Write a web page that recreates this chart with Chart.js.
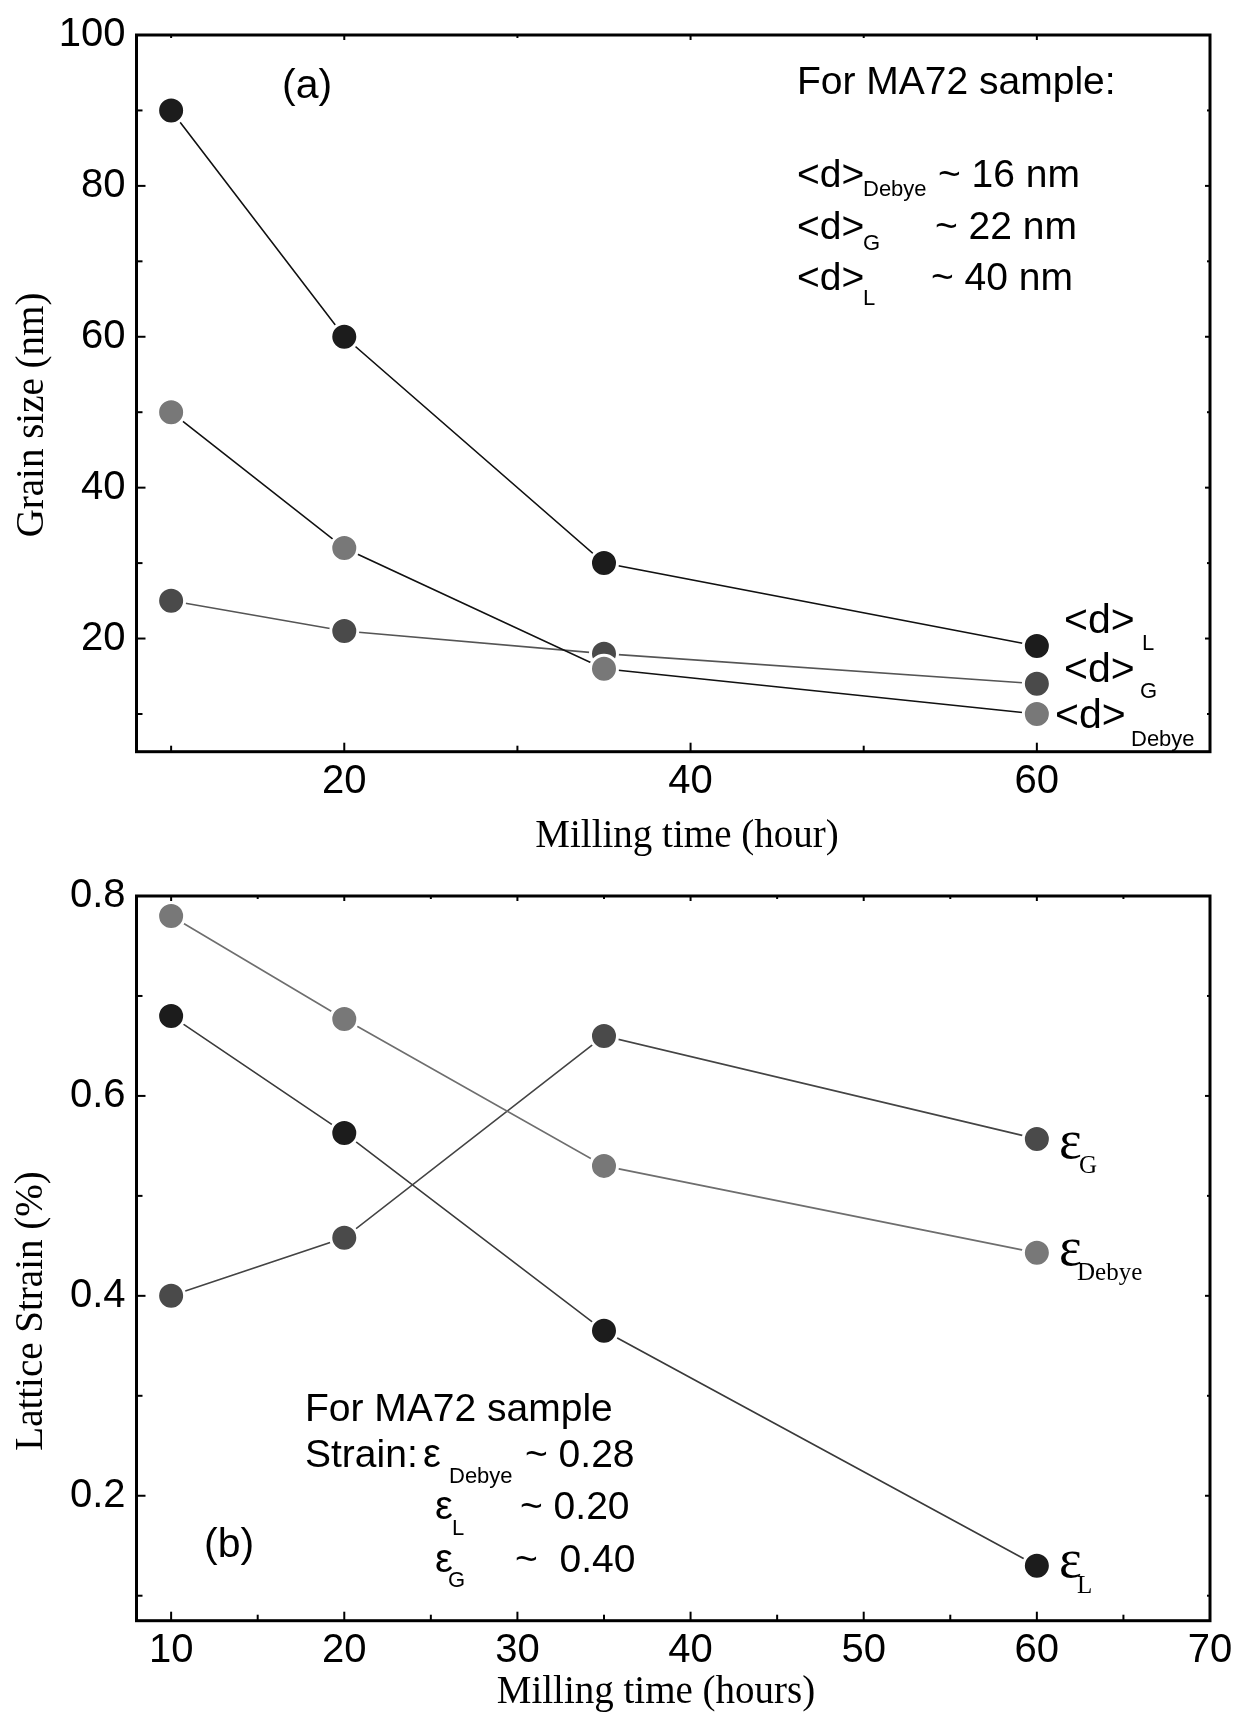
<!DOCTYPE html>
<html>
<head>
<meta charset="utf-8">
<script src="https://cdn.jsdelivr.net/npm/chart.js@4/dist/chart.umd.min.js"></script>
<style>
  html, body { margin: 0; padding: 0; background: #fff; }
  #wrap { position: relative; width: 1240px; height: 1712px; overflow: hidden; }
  .pane { position: absolute; left: 0; width: 1240px; }
</style>
</head>
<body>
<div id="wrap">
  <div class="pane" style="top:0;height:860px"><canvas id="chartA" width="1240" height="860"></canvas></div>
  <div class="pane" style="top:860px;height:852px"><canvas id="chartB" width="1240" height="852"></canvas></div>
</div>
<script>
// ---------- data ----------
const hours = [10, 20, 35, 60];
const grainL = [90, 60, 30, 19];
const grainG = [25, 21, 18, 14];
const grainDebye = [50, 32, 16, 10];
const strainL = [0.68, 0.563, 0.365, 0.13];
const strainG = [0.40, 0.458, 0.66, 0.557];
const strainDebye = [0.78, 0.677, 0.53, 0.443];

const xMajorA = [20, 40, 60];
const xMinorA = [10, 30, 50];
const yMajorA = [20, 40, 60, 80, 100];
const yMinorA = [10, 30, 50, 70, 90];
const xMajorB = [10, 20, 30, 40, 50, 60, 70];
const xMinorB = [15, 25, 35, 45, 55, 65];
const yMajorB = [0.2, 0.4, 0.6, 0.8];
const yMinorB = [0.1, 0.3, 0.5, 0.7];

// ---------- styling ----------
const SANS = '"Liberation Sans", Arial, Helvetica, sans-serif';
const SERIF = '"Liberation Serif", "Times New Roman", Times, serif';
const f = (size, fam) => size + 'px ' + fam;

const framePlugin = {
  id: 'frameTicks',
  afterDraw(chart, args, o) {
    const ctx = chart.ctx, a = chart.chartArea, xs = chart.scales.x, ys = chart.scales.y;
    ctx.save();
    ctx.strokeStyle = '#000';
    ctx.lineCap = 'butt';
    const seg = (x1, y1, x2, y2) => { ctx.beginPath(); ctx.moveTo(x1, y1); ctx.lineTo(x2, y2); ctx.stroke(); };
    ctx.lineWidth = 2;
    o.xMajor.forEach(v => { const p = xs.getPixelForValue(v); seg(p, a.bottom, p, a.bottom - 9); seg(p, a.top, p, a.top + 5); });
    o.xMinor.forEach(v => { const p = xs.getPixelForValue(v); seg(p, a.bottom, p, a.bottom - 6); seg(p, a.top, p, a.top + 3); });
    o.yMajor.forEach(v => { const p = ys.getPixelForValue(v); seg(a.left, p, a.left + 9, p); seg(a.right, p, a.right - 5, p); });
    o.yMinor.forEach(v => { const p = ys.getPixelForValue(v); seg(a.left, p, a.left + 6, p); seg(a.right, p, a.right - 3, p); });
    ctx.lineWidth = 3;
    ctx.strokeRect(a.left, a.top, a.right - a.left, a.bottom - a.top);
    ctx.fillStyle = '#000';
    ctx.textBaseline = 'alphabetic';
    o.texts.forEach(t => {
      ctx.save();
      ctx.font = t.font;
      ctx.textAlign = t.align || 'left';
      ctx.translate(t.x, t.y);
      if (t.rot) ctx.rotate(t.rot);
      ctx.fillText(t.t, 0, 0);
      ctx.restore();
    });
    ctx.restore();
  }
};

function pts(ys) { return hours.map((h, i) => ({ x: h, y: ys[i] })); }

function makeChart(id, cfg) {
  return new Chart(document.getElementById(id), {
    type: 'line',
    data: {
      datasets: cfg.series.map(s => ({
        label: s.label,
        data: pts(s.values),
        borderColor: s.line,
        borderWidth: 1.6,
        pointRadius: 13.5,
        pointHoverRadius: 13.5,
        pointBackgroundColor: s.fill,
        pointBorderColor: '#ffffff',
        pointBorderWidth: 3,
        fill: false,
        tension: 0
      }))
    },
    options: {
      responsive: false,
      animation: false,
      devicePixelRatio: 1,
      events: [],
      layout: { padding: { top: cfg.top, right: 30, left: 0, bottom: 0 } },
      plugins: {
        legend: { display: false },
        tooltip: { enabled: false },
        frameTicks: { xMajor: cfg.xMajor, xMinor: cfg.xMinor, yMajor: cfg.yMajor, yMinor: cfg.yMinor, texts: cfg.texts }
      },
      scales: {
        x: {
          type: 'linear', min: 8, max: 70,
          grid: { display: false, drawTicks: false },
          border: { display: false },
          afterBuildTicks: sc => { sc.ticks = cfg.xMajor.map(v => ({ value: v })); },
          afterFit: sc => { sc.height = cfg.xh; },
          ticks: { autoSkip: false, maxRotation: 0, minRotation: 0, padding: 6, color: '#000', font: { family: SANS, size: 40 } }
        },
        y: {
          type: 'linear', min: cfg.ymin, max: cfg.ymax,
          grid: { display: false, drawTicks: false },
          border: { display: false },
          afterBuildTicks: sc => { sc.ticks = cfg.yMajor.map(v => ({ value: v })); },
          afterFit: sc => { sc.width = 136.5; },
          ticks: { autoSkip: false, padding: 11, color: '#000', font: { family: SANS, size: 40 } }
        }
      }
    },
    plugins: [framePlugin]
  });
}

const S39 = f(39, SANS), S41 = f(41, SANS), SUB = f(22, SANS);

makeChart('chartA', {
  top: 28.5, xh: 108.3, ymin: 5, ymax: 100,
  xMajor: xMajorA, xMinor: xMinorA, yMajor: yMajorA, yMinor: yMinorA,
  series: [
    { label: '<d>Debye', values: grainDebye, line: '#111111', fill: '#787878' },
    { label: '<d>G', values: grainG, line: '#555555', fill: '#4a4a4a' },
    { label: '<d>L', values: grainL, line: '#111111', fill: '#1c1c1c' }
  ],
  texts: [
    { t: '(a)', x: 282, y: 98, font: S41 },
    { t: 'For MA72 sample:', x: 797, y: 94, font: S39 },
    { t: '<d>', x: 797, y: 187, font: S39 },
    { t: 'Debye', x: 863, y: 196, font: SUB },
    { t: '~ 16 nm', x: 938, y: 187, font: S39 },
    { t: '<d>', x: 797, y: 238.5, font: S39 },
    { t: 'G', x: 863, y: 250, font: SUB },
    { t: '~ 22 nm', x: 935, y: 238.5, font: S39 },
    { t: '<d>', x: 797, y: 290, font: S39 },
    { t: 'L', x: 863, y: 305, font: SUB },
    { t: '~ 40 nm', x: 931, y: 290, font: S39 },
    { t: '<d>', x: 1064, y: 633, font: S41 },
    { t: 'L', x: 1142, y: 650, font: SUB },
    { t: '<d>', x: 1064, y: 682, font: S41 },
    { t: 'G', x: 1140, y: 698, font: SUB },
    { t: '<d>', x: 1055, y: 728, font: S41 },
    { t: 'Debye', x: 1131, y: 745.5, font: SUB },
    { t: 'Milling time (hour)', x: 687, y: 847, font: f(39, SERIF), align: 'center' },
    { t: 'Grain size (nm)', x: 43, y: 415, font: f(39, SERIF), align: 'center', rot: -Math.PI / 2 }
  ]
});

const EPS_R = f(54, SERIF), SUBR = f(25, SERIF), EPS_S = f(40, SANS);

makeChart('chartB', {
  top: 36, xh: 91.3, ymin: 0.075, ymax: 0.8,
  xMajor: xMajorB, xMinor: xMinorB, yMajor: yMajorB, yMinor: yMinorB,
  series: [
    { label: 'εDebye', values: strainDebye, line: '#6e6e6e', fill: '#787878' },
    { label: 'εG', values: strainG, line: '#444444', fill: '#4a4a4a' },
    { label: 'εL', values: strainL, line: '#3a3a3a', fill: '#1c1c1c' }
  ],
  texts: [
    { t: 'For MA72 sample', x: 305, y: 561, font: S39 },
    { t: 'Strain:', x: 305, y: 607, font: S39 },
    { t: 'ε', x: 423, y: 607, font: EPS_S },
    { t: 'Debye', x: 449, y: 622.5, font: SUB },
    { t: '~ 0.28', x: 525, y: 607, font: S39 },
    { t: 'ε', x: 435, y: 659, font: EPS_S },
    { t: 'L', x: 452, y: 675, font: SUB },
    { t: '~ 0.20', x: 520, y: 659, font: S39 },
    { t: 'ε', x: 435, y: 711.5, font: EPS_S },
    { t: 'G', x: 448, y: 727, font: SUB },
    { t: '~  0.40', x: 515, y: 711.5, font: S39 },
    { t: '(b)', x: 204, y: 697, font: S41 },
    { t: 'ε', x: 1059, y: 298, font: EPS_R },
    { t: 'G', x: 1079, y: 313, font: SUBR },
    { t: 'ε', x: 1059, y: 405, font: EPS_R },
    { t: 'Debye', x: 1077, y: 420, font: SUBR },
    { t: 'ε', x: 1059, y: 717, font: EPS_R },
    { t: 'L', x: 1077, y: 733, font: SUBR },
    { t: 'Milling time (hours)', x: 656, y: 843, font: f(39, SERIF), align: 'center' },
    { t: 'Lattice Strain (%)', x: 42, y: 451, font: f(39, SERIF), align: 'center', rot: -Math.PI / 2 }
  ]
});
</script>
</body>
</html>
